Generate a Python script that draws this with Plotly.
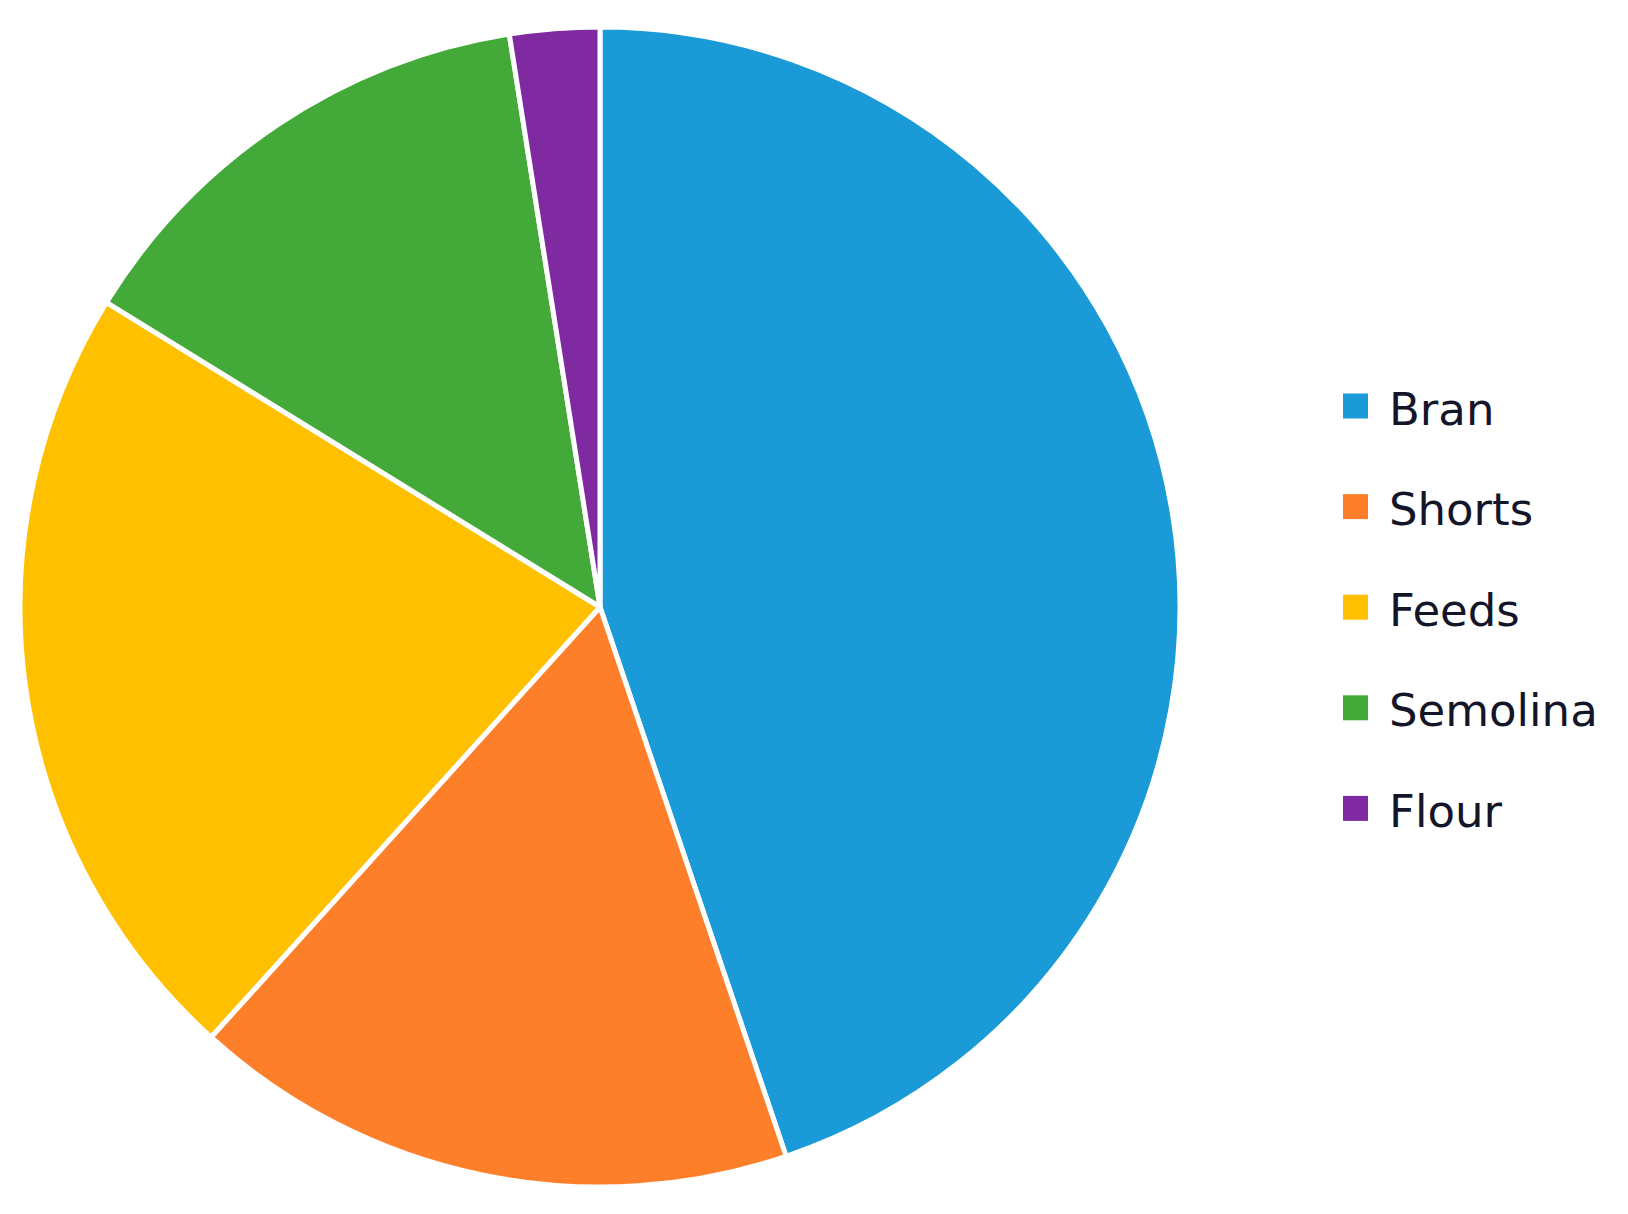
import plotly.graph_objects as go

categories = ["Bran", "Shorts", "Feeds", "Semolina", "Flour"]
values = [44.8, 16.9, 22.1, 13.7, 2.5]
colors = ["#1A9AD6", "#FE7F2A", "#FFC000", "#43AA3A", "#7F2AA0"]

W, H = 1628, 1214
OFF = 8  # browser default body margin

# pie centre (page px) and radius
cx, cy, r = 600 - OFF, 607 - OFF, 580

fig = go.Figure(go.Pie(
    labels=categories,
    values=values,
    sort=False,
    direction="clockwise",
    rotation=0,
    marker=dict(colors=colors, line=dict(color="white", width=5)),
    textinfo="none",
    hoverinfo="label+value",
    domain=dict(x=[(cx - r) / W, (cx + r) / W],
                y=[1 - (cy + r) / H, 1 - (cy - r) / H]),
    showlegend=False,
))

# manual legend (to reproduce the wide row spacing)
sq = 25
sq_x = 1343 - OFF
for i, (name, col) in enumerate(zip(categories, colors)):
    y = 406 + 100.6 * i - OFF
    fig.add_shape(type="rect", xref="paper", yref="paper",
                  x0=sq_x / W, x1=(sq_x + sq) / W,
                  y0=1 - (y + sq / 2) / H, y1=1 - (y - sq / 2) / H,
                  fillcolor=col, line=dict(width=0))
    fig.add_annotation(xref="paper", yref="paper", x=(1387 - OFF) / W, y=1 - (y + 3) / H,
                       text=name, showarrow=False, xanchor="left", yanchor="middle",
                       font=dict(family="DejaVu Sans", size=45, color="#15152a"))

fig.update_layout(
    width=W, height=H,
    margin=dict(l=0, r=0, t=0, b=0),
    paper_bgcolor="white",
    plot_bgcolor="white",
)

fig.write_html("out.html")
